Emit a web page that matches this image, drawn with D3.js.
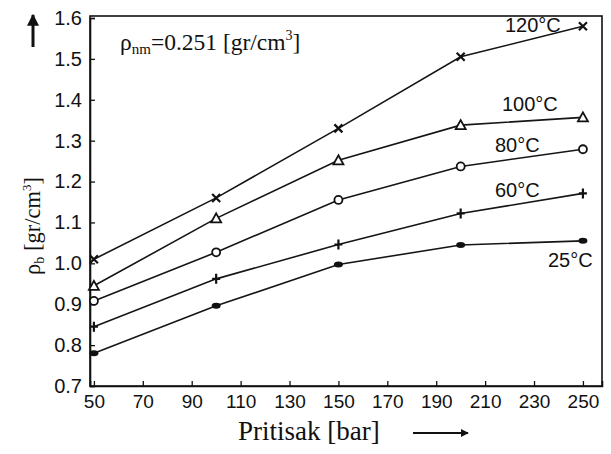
<!DOCTYPE html>
<html><head><meta charset="utf-8">
<script src="https://cdn.jsdelivr.net/npm/d3@7"></script>
<style>
body{margin:0;background:#fff;}
svg{display:block;}
</style></head>
<body>
<svg id="c" width="611" height="454"></svg>
<script>
// ---- data ----
const pressures = [50, 100, 150, 200, 250];
const seriesNames = ["120°C", "100°C", "80°C", "60°C", "25°C"];
const s120 = [1.01, 1.16, 1.33, 1.505, 1.58];
const s100 = [0.945, 1.11, 1.252, 1.338, 1.357];
const s80 = [0.908, 1.027, 1.155, 1.237, 1.279];
const s60 = [0.845, 0.962, 1.046, 1.122, 1.171];
const s25 = [0.78, 0.896, 0.997, 1.045, 1.055];
const xTicks = [50, 70, 90, 110, 130, 150, 170, 190, 210, 230, 250];
const yTicks = [0.7, 0.8, 0.9, 1.0, 1.1, 1.2, 1.3, 1.4, 1.5, 1.6];

const series = [
  {name: seriesNames[0], values: s120, marker: "x"},
  {name: seriesNames[1], values: s100, marker: "tri"},
  {name: seriesNames[2], values: s80, marker: "circle"},
  {name: seriesNames[3], values: s60, marker: "plus"},
  {name: seriesNames[4], values: s25, marker: "dot"}
];

// ---- layout ----
const svg = d3.select("#c");
const L = 90, R = 602, T = 16, B = 386;
const x = d3.scaleLinear().domain([48.4, 257.8]).range([L, R]);
const y = d3.scaleLinear().domain([0.7, 1.6]).range([B, 18]);

const tickFont = "'Liberation Sans',Arial,sans-serif";
const serif = "'Liberation Serif','Times New Roman',serif";

// frame
svg.append("rect").attr("x", L).attr("y", T).attr("width", R - L).attr("height", B - T)
  .attr("fill", "none").attr("stroke", "#111").attr("stroke-width", 1.6);

// axes
const ya = svg.append("g").attr("transform", `translate(${L},0)`)
  .call(d3.axisLeft(y).tickValues(yTicks).tickFormat(d3.format(".1f")).tickSize(-5).tickPadding(8));
const xa = svg.append("g").attr("transform", `translate(0,${B})`)
  .call(d3.axisBottom(x).tickValues(xTicks).tickFormat(d3.format("d")).tickSize(-5).tickPadding(9));
[ya, xa].forEach(g => {
  g.select(".domain").attr("stroke", "#111").attr("stroke-width", 1.6);
  g.selectAll(".tick line").attr("stroke", "#111").attr("stroke-width", 1.3);
  g.selectAll(".tick text").attr("fill", "#111").style("font-family", tickFont);
});
ya.selectAll(".tick text").style("font-size", "20px");
xa.selectAll(".tick text").style("font-size", "19px");

// lines
const line = d3.line().x((d, i) => x(pressures[i])).y(d => y(d));
series.forEach(s => {
  svg.append("path").datum(s.values).attr("d", line)
    .attr("fill", "none").attr("stroke", "#151515").attr("stroke-width", 1.6);
});

// markers
series.forEach(s => {
  const g = svg.append("g");
  s.values.forEach((v, i) => {
    const cx = x(pressures[i]), cy = y(v);
    if (s.marker === "x") {
      g.append("path").attr("d", `M${cx-4},${cy-4}L${cx+4},${cy+4}M${cx-4},${cy+4}L${cx+4},${cy-4}`)
        .attr("stroke", "#111").attr("stroke-width", 2.2);
    } else if (s.marker === "tri") {
      g.append("path").attr("d", `M${cx},${cy-5}L${cx+5},${cy+4}L${cx-5},${cy+4}Z`)
        .attr("fill", "#fff").attr("stroke", "#111").attr("stroke-width", 1.8);
    } else if (s.marker === "circle") {
      g.append("circle").attr("cx", cx).attr("cy", cy).attr("r", 4)
        .attr("fill", "#fff").attr("stroke", "#111").attr("stroke-width", 1.8);
    } else if (s.marker === "plus") {
      g.append("path").attr("d", `M${cx},${cy-5}L${cx},${cy+5}M${cx-4},${cy}L${cx+4},${cy}`)
        .attr("stroke", "#111").attr("stroke-width", 2.2);
    } else {
      g.append("ellipse").attr("cx", cx).attr("cy", cy).attr("rx", 4.5).attr("ry", 3)
        .attr("fill", "#111");
    }
  });
});

// series labels
const labelPos = [[505, 32], [502, 111], [495, 152], [495, 197], [548, 267]];
series.forEach((s, i) => {
  svg.append("text").attr("x", labelPos[i][0]).attr("y", labelPos[i][1])
    .style("font-family", tickFont).style("font-size", "20px").attr("fill", "#111")
    .text(s.name);
});

// annotation
const ann = svg.append("text").attr("x", 120).attr("y", 50)
  .style("font-family", serif).style("font-size", "23.5px").attr("fill", "#111");
ann.append("tspan").text("ρ");
ann.append("tspan").attr("dy", 4).style("font-size", "15px").text("nm");
ann.append("tspan").attr("dy", -4).text("=0.251 [gr/cm");
ann.append("tspan").attr("dy", -10).style("font-size", "14px").text("3");
ann.append("tspan").attr("dy", 10).text("]");

// y label
const yl = svg.append("text").attr("transform", "translate(40,226) rotate(-90)")
  .attr("text-anchor", "middle")
  .style("font-family", serif).style("font-size", "22.5px").attr("fill", "#111");
yl.append("tspan").text("ρ");
yl.append("tspan").attr("dy", 4).style("font-size", "14px").text("b");
yl.append("tspan").attr("dy", -4).text(" [gr/cm");
yl.append("tspan").attr("dy", -9).style("font-size", "13px").text("3");
yl.append("tspan").attr("dy", 9).text("]");

// x label
svg.append("text").attr("x", 238).attr("y", 440)
  .style("font-family", serif).style("font-size", "27px").attr("fill", "#111")
  .text("Pritisak [bar]");

// arrows
svg.append("defs").append("marker").attr("id", "ah").attr("viewBox", "0 0 10 10")
  .attr("refX", 9).attr("refY", 5).attr("markerWidth", 4).attr("markerHeight", 4)
  .attr("orient", "auto").append("path").attr("d", "M0,0L10,5L0,10Z").attr("fill", "#111");
svg.append("line").attr("x1", 413).attr("y1", 433).attr("x2", 468).attr("y2", 433)
  .attr("stroke", "#111").attr("stroke-width", 2).attr("marker-end", "url(#ah)");
svg.append("line").attr("x1", 33).attr("y1", 47).attr("x2", 33).attr("y2", 15)
  .attr("stroke", "#111").attr("stroke-width", 3).attr("marker-end", "url(#ah)");
</script>
</body></html>
